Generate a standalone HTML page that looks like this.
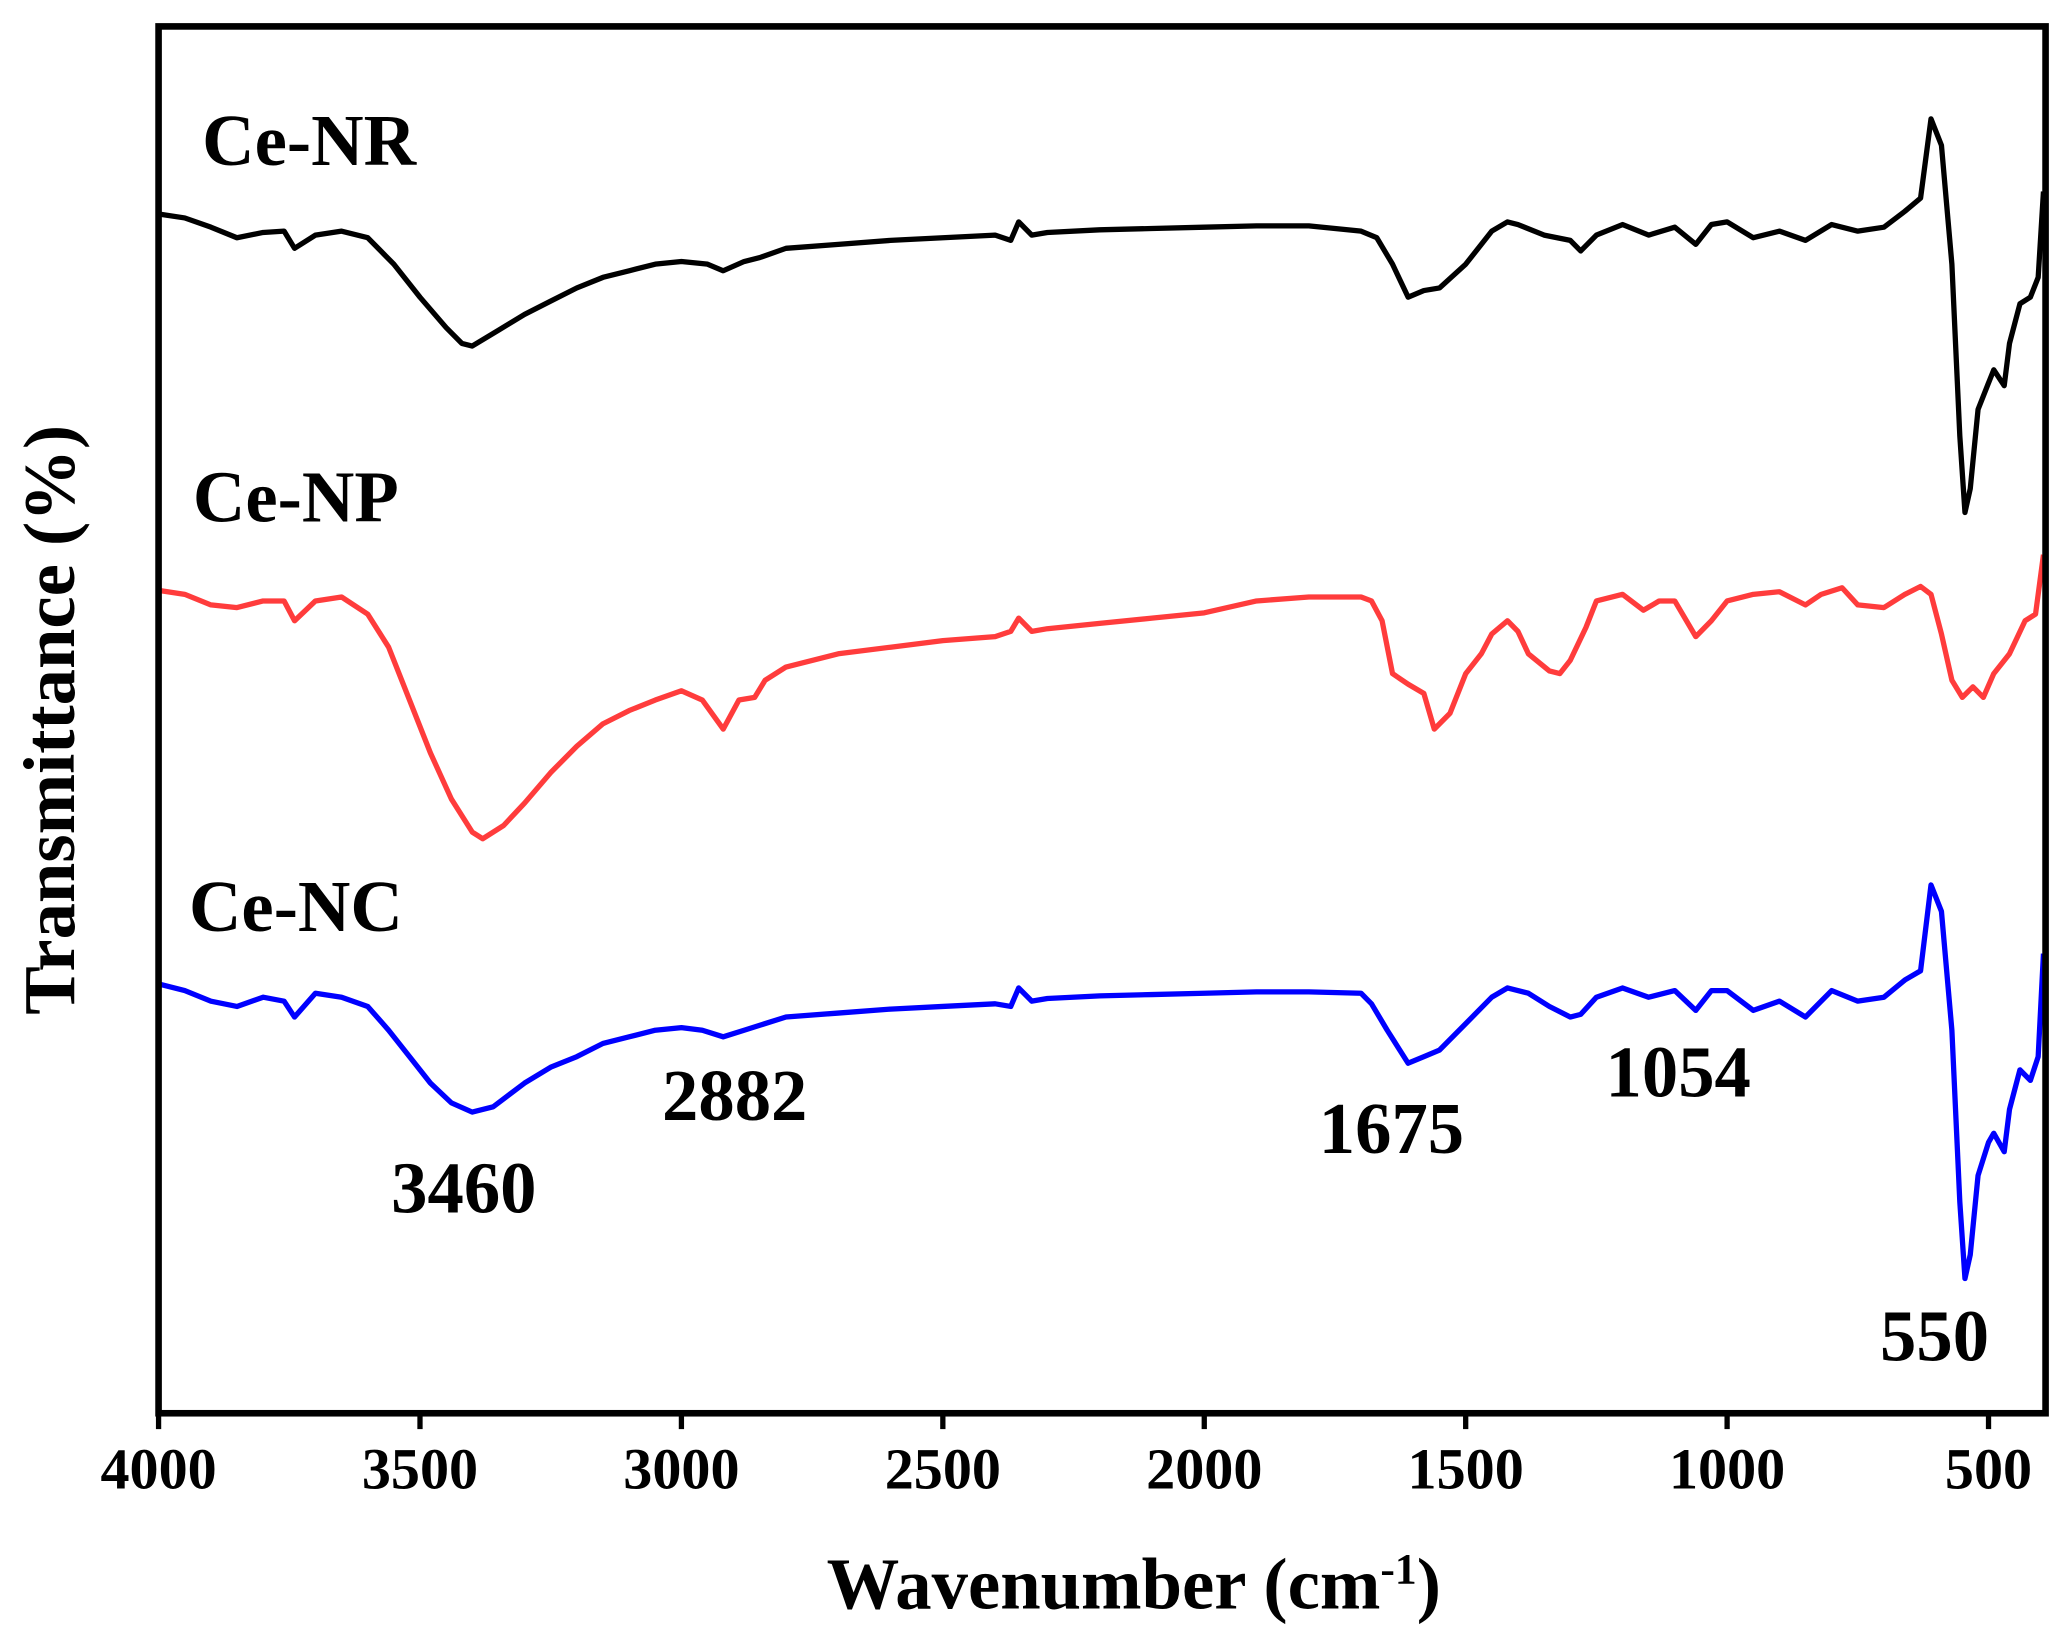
<!DOCTYPE html>
<html><head><meta charset="utf-8"><style>
html,body{margin:0;padding:0;background:#fff;}
svg{display:block;}
text{font-family:"Liberation Serif",serif;font-weight:bold;fill:#000;}
</style></head><body>
<svg id="chart" width="2072" height="1651" viewBox="0 0 1568 1250" preserveAspectRatio="none" xmlns="http://www.w3.org/2000/svg">
<g id="plot"></g>
<rect x="120" y="20" width="1428" height="1050" fill="none" stroke="#000" stroke-width="5"/>
<g id="xticks"></g>
<text x="858" y="1218" font-size="55" text-anchor="middle">Wavenumber (cm<tspan dy="-19" font-size="33">-1</tspan><tspan dy="19">)</tspan></text>
<text transform="translate(56,545) rotate(-90)" font-size="55" text-anchor="middle">Transmittance (%)</text>
<text x="153" y="125" font-size="55">Ce-NR</text>
<text x="146" y="395" font-size="55">Ce-NP</text>
<text x="143" y="705" font-size="55">Ce-NC</text>
<text x="351" y="918" font-size="55" text-anchor="middle">3460</text>
<text x="556" y="848" font-size="55" text-anchor="middle">2882</text>
<text x="1053" y="873" font-size="55" text-anchor="middle">1675</text>
<text x="1270" y="830" font-size="55" text-anchor="middle">1054</text>
<text x="1464" y="1030" font-size="55" text-anchor="middle">550</text>
</svg>
<script>
const xTicks=[4000,3500,3000,2500,2000,1500,1000,500];
const wnNR=[4000,3950,3900,3850,3800,3760,3740,3700,3650,3600,3550,3500,3450,3420,3400,3350,3300,3250,3200,3150,3100,3050,3000,2950,2920,2880,2850,2800,2700,2600,2500,2400,2370,2355,2330,2300,2200,2100,2000,1900,1800,1700,1670,1640,1610,1580,1550,1500,1450,1420,1400,1350,1300,1280,1250,1200,1150,1100,1060,1030,1000,950,900,850,800,750,700,660,630,610,590,570,555,545,535,520,500,490,470,460,440,420,405,395];
const tNR=[908,905,898,890,894,895,882,892,895,890,870,845,822,810,808,820,832,842,852,860,865,870,872,870,865,872,875,882,885,888,890,892,888,902,892,894,896,897,898,899,899,895,890,870,845,850,852,870,895,902,900,892,888,880,892,900,892,898,885,900,902,890,895,888,900,895,898,910,920,980,960,870,740,682,700,760,780,790,778,810,840,845,860,925];
const wnNP=[4000,3950,3900,3850,3800,3760,3740,3700,3650,3600,3560,3520,3480,3440,3400,3380,3340,3300,3250,3200,3150,3100,3050,3000,2960,2920,2890,2860,2840,2800,2700,2600,2500,2400,2370,2355,2330,2300,2200,2100,2000,1900,1800,1700,1680,1660,1640,1610,1580,1560,1530,1500,1470,1450,1420,1400,1380,1340,1320,1300,1270,1250,1200,1160,1130,1100,1060,1030,1000,950,900,850,820,780,750,700,660,630,610,590,570,550,530,510,490,460,430,410,395];
const tNP=[623,620,612,610,615,615,600,615,618,605,580,540,500,465,440,435,445,462,485,505,522,532,540,547,540,518,540,542,555,565,575,580,585,588,592,602,592,594,598,602,606,615,618,618,615,600,560,552,545,518,530,560,575,590,600,592,575,562,560,570,595,615,620,608,615,615,588,600,615,620,622,612,620,625,612,610,620,626,620,590,555,542,550,542,560,575,600,605,650];
const wnNC=[4000,3950,3900,3850,3800,3760,3740,3700,3650,3600,3560,3520,3480,3440,3400,3360,3300,3250,3200,3150,3100,3050,3000,2960,2920,2880,2800,2700,2600,2500,2400,2370,2355,2330,2300,2200,2100,2000,1900,1800,1700,1680,1650,1610,1580,1550,1500,1450,1420,1380,1340,1300,1280,1250,1200,1150,1100,1060,1030,1000,950,900,850,800,750,700,660,630,610,590,570,555,545,535,520,500,490,470,460,440,420,405,395];
const tNC=[325,320,312,308,315,312,300,318,315,308,290,270,250,235,228,232,250,262,270,280,285,290,292,290,285,290,300,303,306,308,310,308,322,312,314,316,317,318,319,319,318,310,290,265,270,275,295,315,322,318,308,300,302,315,322,315,320,305,320,320,305,312,300,320,312,315,328,335,400,380,290,160,102,120,180,205,212,198,230,260,252,270,348];
const L=120,R=1548,T=20,B=1070;
const xMin=4000,xMax=390.9,yMin=0,yMax=1050;
function xs(v){return L+(v-xMin)/(xMax-xMin)*(R-L);}
function ys(v){return B-(v-yMin)/(yMax-yMin)*(B-T);}
const NS="http://www.w3.org/2000/svg";
const plot=document.getElementById('plot');
function drawSeries(wn,t,color,name){
  const p=document.createElementNS(NS,'path');
  p.setAttribute('d',wn.map((w,i)=>(i?'L':'M')+xs(w).toFixed(1)+','+ys(t[i]).toFixed(1)).join(''));
  p.setAttribute('fill','none');p.setAttribute('stroke',color);p.setAttribute('stroke-width','4');p.setAttribute('stroke-linejoin','round');
  
  
  plot.appendChild(p);
}
drawSeries(wnNR,tNR,'#000','series-ce-nr');
drawSeries(wnNP,tNP,'#ff3c3c','series-ce-np');
drawSeries(wnNC,tNC,'#0000ff','series-ce-nc');
const xg=document.getElementById('xticks');
xTicks.forEach(v=>{
  const l=document.createElementNS(NS,'line');
  l.setAttribute('x1',xs(v));l.setAttribute('x2',xs(v));l.setAttribute('y1',B);l.setAttribute('y2',B+12);
  l.setAttribute('stroke','#000');l.setAttribute('stroke-width','4');
  
  
  xg.appendChild(l);
  const tx=document.createElementNS(NS,'text');
  tx.setAttribute('x',xs(v));tx.setAttribute('y',B+57);tx.setAttribute('font-size','44');tx.setAttribute('text-anchor','middle');
  tx.textContent=v;
  
  
  xg.appendChild(tx);
});
</script>
</body></html>
